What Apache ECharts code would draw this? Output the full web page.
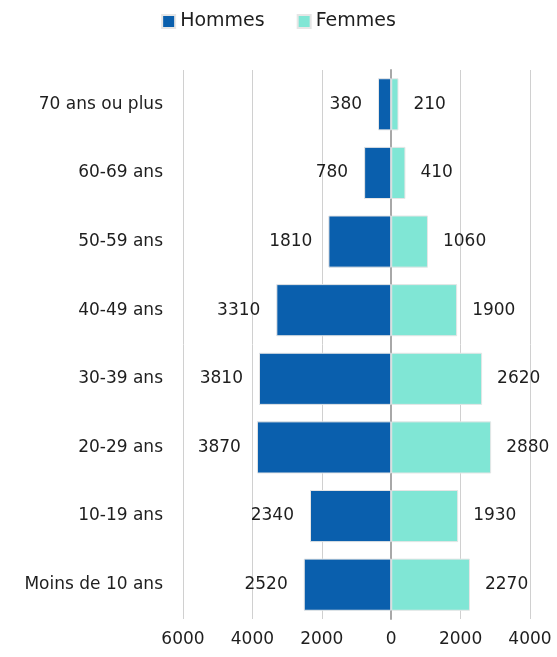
<!DOCTYPE html>
<html>
<head>
<meta charset="utf-8">
<script src="https://cdn.jsdelivr.net/npm/echarts@6/dist/echarts.min.js"></script>
<style>
  html, body { margin: 0; padding: 0; background: #fff; }
  #chart { width: 557px; height: 657px; }
</style>
</head>
<body>
<div id="chart"></div>
<script>
// tranches d'âge, du bas vers le haut
const ageGroups = ['Moins de 10 ans', '10-19 ans', '20-29 ans', '30-39 ans', '40-49 ans', '50-59 ans', '60-69 ans', '70 ans ou plus'];
const hommes = [2520, 2340, 3870, 3810, 3310, 1810, 780, 380];
const femmes = [2270, 1930, 2880, 2620, 1900, 1060, 410, 210];
const xTicks = { min: -6000, max: 4000, interval: 2000 };

const font = '"DejaVu Sans", sans-serif';
const fs = 17;
const txt = '#1e1e1e';
const chart = echarts.init(document.getElementById('chart'));

chart.setOption({
  animation: false,
  textStyle: { fontFamily: font },
  legend: {
    top: 7,
    left: 'center',
    itemWidth: 13,
    itemHeight: 13,
    itemGap: 32,
    icon: 'rect',
    textStyle: { fontSize: 19, color: txt, fontFamily: font }
  },
  grid: { left: 183, right: 27, top: 70, bottom: 38 },
  xAxis: {
    type: 'value',
    min: xTicks.min,
    max: xTicks.max,
    interval: xTicks.interval,
    axisLine: { show: false },
    axisTick: { show: false },
    axisLabel: {
      fontSize: fs, color: txt, margin: 12,
      formatter: v => String(Math.abs(v))
    },
    splitLine: { lineStyle: { color: '#d0d0d0', width: 1 } }
  },
  yAxis: {
    type: 'category',
    data: ageGroups,
    axisLine: { onZero: true, lineStyle: { color: '#a8a8a8', width: 2 } },
    axisTick: { show: false },
    axisLabel: { fontSize: fs, color: txt, margin: 20 }
  },
  series: [
    {
      name: 'Hommes',
      type: 'bar',
      stack: 'pyr',
      barCategoryGap: '24%',
      itemStyle: { color: '#0a5fad', borderColor: '#e6e6e6', borderWidth: 1 },
      label: {
        show: true, position: 'left', distance: 16,
        fontSize: fs, color: txt,
        formatter: p => String(Math.abs(p.value))
      },
      data: hommes.map(v => -v)
    },
    {
      name: 'Femmes',
      type: 'bar',
      stack: 'pyr',
      itemStyle: { color: '#80e6d5', borderColor: '#e6e6e6', borderWidth: 1 },
      label: {
        show: true, position: 'right', distance: 15,
        fontSize: fs, color: txt
      },
      data: femmes
    }
  ]
});
</script>
</body>
</html>
